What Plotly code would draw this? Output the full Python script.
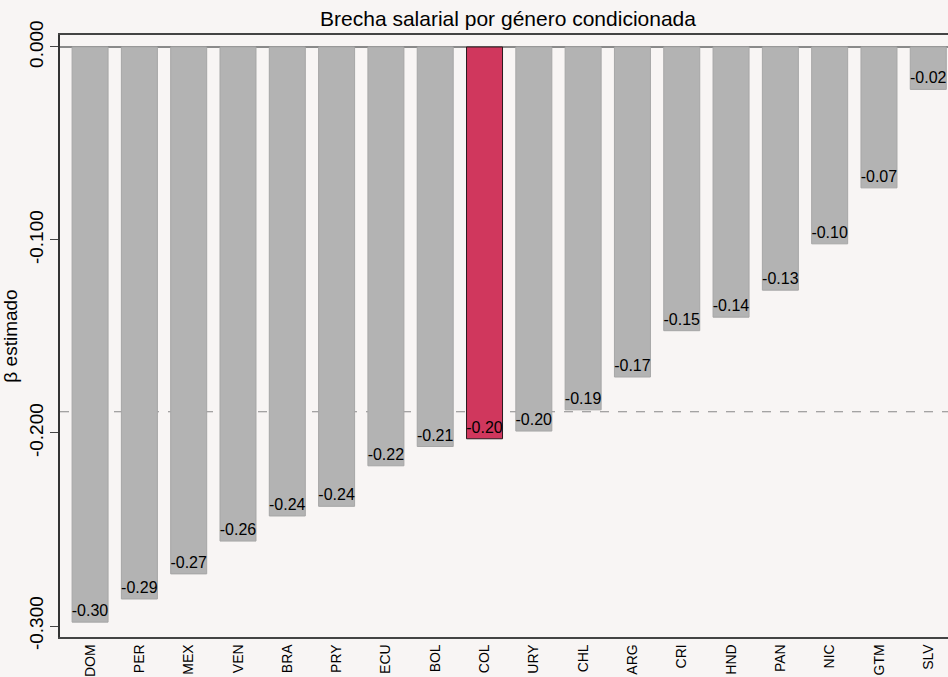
import plotly.graph_objects as go

# Brecha salarial condicionada por país (beta estimado)
paises = ["DOM", "PER", "MEX", "VEN", "BRA", "PRY", "ECU", "BOL", "COL",
          "URY", "CHL", "ARG", "CRI", "HND", "PAN", "NIC", "GTM", "SLV"]
beta = [-0.298, -0.286, -0.273, -0.256, -0.243, -0.238, -0.217, -0.207, -0.203,
        -0.199, -0.188, -0.171, -0.147, -0.140, -0.126, -0.102, -0.073, -0.022]
promedio = -0.189
destacado = "COL"

y_ticks = [0.0, -0.1, -0.2, -0.3]
y_ticktext = ["0.000", "-0.100", "-0.200", "-0.300"]

bg = "#f8f5f4"
colores = ["#d0375d" if p == destacado else "#b3b3b3" for p in paises]
bordes = ["#2a1a1e" if p == destacado else "#a6a6a6" for p in paises]
etiquetas = [f"{v:.2f}" for v in beta]

fig = go.Figure(go.Bar(
    x=paises, y=beta,
    marker=dict(color=colores, line=dict(color=bordes, width=1)),
    width=0.73,
    text=etiquetas,
    textposition="inside",
    insidetextanchor="end",
    textangle=0,
    constraintext="none",
    textfont=dict(family="Liberation Sans", size=16, color="black"),
    hoverinfo="skip",
))

# linea de referencia (promedio)
fig.add_shape(type="line", xref="paper", x0=0, x1=1, yref="y", y0=promedio, y1=promedio,
              line=dict(color="#888888", width=1.2, dash="dash"), layer="below")

fig.update_layout(
    width=948, height=677,
    margin=dict(l=60, r=0, t=35, b=40),
    paper_bgcolor=bg, plot_bgcolor=bg,
    font=dict(family="Liberation Sans", color="black"),
    showlegend=False,
    title=dict(text="Brecha salarial por género condicionada", x=508 / 948, xanchor="center",
               y=1 - 19 / 677, yanchor="middle", font=dict(size=21, color="black")),
)
fig.update_xaxes(
    range=[-0.61, 17.40], showgrid=False, showline=True, mirror=True,
    linecolor="#444444", linewidth=1.5, ticks="", tickangle=-90,
    tickfont=dict(size=14, color="black"), zeroline=False,
)
fig.update_yaxes(
    range=[-0.3057, 0.0062], tickvals=y_ticks, ticktext=y_ticktext, tickangle=-90,
    tickfont=dict(size=19, color="black"), ticks="outside", ticklen=8, tickcolor="#444444",
    showgrid=False, showline=True, linecolor="#333333", linewidth=1.5,
    zeroline=True, zerolinecolor="#8a8a8a", zerolinewidth=1.5,
    title=dict(text="β estimado", font=dict(size=19, color="black"), standoff=6),
)

fig.write_html("out.html", config={"displayModeBar": False},
               post_script="document.body.style.margin='0';document.body.style.overflow='hidden';")
